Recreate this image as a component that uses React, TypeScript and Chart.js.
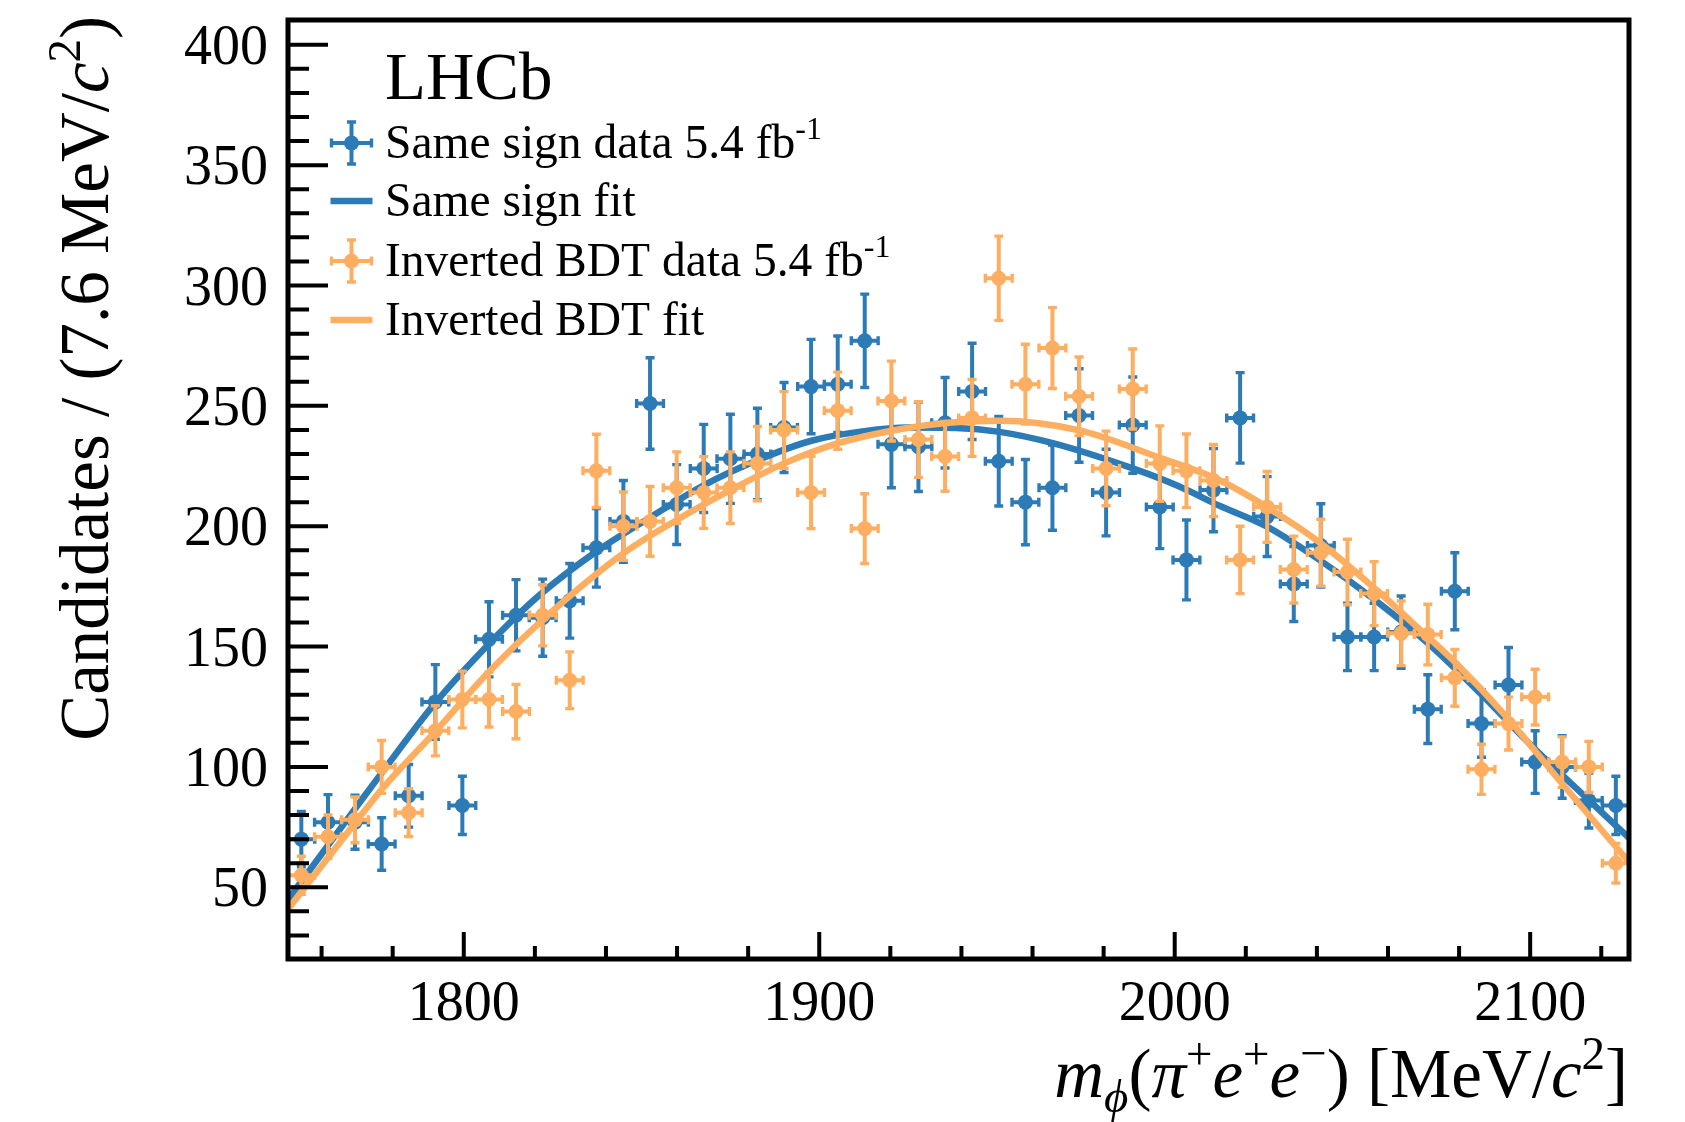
import { useEffect, useRef } from "react";
import { Chart, registerables } from "chart.js";

Chart.register(...registerables);

// ---- data ----
const BIN_CENTERS = [
  1754.3, 1761.8, 1769.4, 1776.9, 1784.5, 1792.0, 1799.6, 1807.1, 1814.7, 1822.2,
  1829.8, 1837.3, 1844.9, 1852.4, 1859.9, 1867.5, 1875.0, 1882.6, 1890.1, 1897.7,
  1905.2, 1912.8, 1920.3, 1927.9, 1935.4, 1943.0, 1950.5, 1958.0, 1965.6, 1973.1,
  1980.7, 1988.2, 1995.8, 2003.3, 2010.9, 2018.4, 2026.0, 2033.5, 2041.1, 2048.6,
  2056.1, 2063.7, 2071.2, 2078.8, 2086.3, 2093.9, 2101.4, 2109.0, 2116.5, 2124.1,
];
const BIN_HALF_WIDTH = 3.77;

const SAME_SIGN_COUNTS = [
  70, 77, 77, 68, 88, 127, 84, 153, 163, 162,
  169, 191, 202, 251, 209, 224, 228, 230, 241, 258,
  259, 277, 234, 233, 243, 256, 227, 210, 216, 246,
  214, 242, 208, 186, 215, 245, 204, 176, 192, 154,
  154, 156, 124, 173, 118, 134, 102, 100, 86, 84,
];
const SAME_SIGN_ERRORS = [
  11.5, 11.5, 11.2, 10.9, 13, 15.5, 12.1, 15.6, 14.8, 16,
  15.5, 16.3, 17, 19, 16.6, 18.3, 18.5, 19, 18.7, 19.6,
  20, 19.4, 18, 18.6, 18.8, 20, 18.6, 17.7, 17.7, 19.4,
  18, 20, 17.3, 16.6, 17.3, 18.8, 16.6, 15.6, 17.3, 14,
  14, 15, 14.3, 16, 14, 15.6, 13, 13, 11.4, 12.1,
];

const INVERTED_COUNTS = [
  55, 71, 78, 100, 81, 115, 128, 128, 123, 163,
  136, 223, 200, 202, 216, 214, 216, 226, 240, 214,
  248, 199, 252, 236, 229, 245, 303, 259, 274, 254,
  224, 257, 226, 223, 219, 186, 208, 182, 189, 181,
  172, 155.5, 155, 137, 99, 118, 129, 102, 100, 60,
];
const INVERTED_ERRORS = [
  7.9, 9, 9.5, 11, 9.9, 10.4, 11.8, 11.4, 11.3, 12.7,
  11.8, 15.2, 14.2, 14.5, 14.9, 14.9, 14.9, 15.4, 15.9, 15,
  16, 14.5, 16.6, 15.7, 14.5, 16, 17.5, 16.6, 16.8, 16.3,
  15.5, 16.6, 15.7, 15.3, 15, 14, 14.7, 13.9, 13.9, 13.6,
  13.3, 13.4, 12.6, 11.8, 10.4, 11, 11.6, 10.5, 10.6, 8.2,
];

const SAME_SIGN_FIT_X = [
  1750.6, 1768.4, 1777.8, 1791.8, 1807.0, 1821.0, 1837.3, 1852.3, 1867.5, 1882.6,
  1897.8, 1912.6, 1925.0, 1938.5, 1950.7, 1965.7, 1988.2, 2001.3, 2012.6, 2025.7,
  2040.7, 2056.2, 2071.5, 2086.0, 2100.7, 2116.5, 2127.8,
];
const SAME_SIGN_FIT_Y = [
  45, 80.6, 99.3, 126.3, 151, 171, 189.5, 203.5, 217, 227.4,
  235.5, 239.5, 241, 240.8, 239.2, 234.5, 224, 216.5, 208.5, 200,
  186, 169.5, 151, 130.5, 108.3, 86.2, 70.5,
];

const INVERTED_FIT_X = [
  1750.6, 1769.6, 1777.1, 1791.9, 1807.0, 1822.1, 1844.8, 1859.8, 1875.0, 1890.3,
  1905.1, 1922.6, 1935.7, 1950.7, 1973.2, 1995.7, 2012.6, 2025.9, 2041.2, 2057.0,
  2071.2, 2079.2, 2093.2, 2109.0, 2127.8,
];
const INVERTED_FIT_Y = [
  41, 77, 91, 114.5, 139.4, 161, 188.6, 202.5, 215, 226.2,
  234.4, 240.3, 242.9, 243.8, 239.8, 228.5, 219.1, 208, 192.8, 173.2,
  154, 143, 121, 93, 60.5,
];

const X_MIN = 1750.55;
const X_MAX = 2127.8;
const Y_MIN = 20.2;
const Y_MAX = 410.3;
const X_TICK_LABELS = [1800, 1900, 2000, 2100];
const Y_TICK_LABELS = [50, 100, 150, 200, 250, 300, 350, 400];
const X_MINOR_STEP = 20;
const Y_MINOR_STEP = 10;

const BLUE = "#2c7bb6";
const ORANGE = "#fdae61";
const SERIF = '"Liberation Serif", "Times New Roman", serif';
const FIT_WIDTH = 6.5;
const POINT_RADIUS = 7.5;
const BAR_WIDTH = 4;

type Seg = { t: string; it?: boolean; sup?: boolean; sub?: boolean };

function drawRich(
  ctx: CanvasRenderingContext2D,
  segs: Seg[],
  x: number,
  y: number,
  size: number,
  align: "left" | "right"
) {
  const fontFor = (s: Seg) =>
    `${s.it ? "italic " : ""}${s.sup || s.sub ? Math.round(size * 0.68) : size}px ${SERIF}`;
  const widths: number[] = [];
  let total = 0;
  for (const s of segs) {
    ctx.font = fontFor(s);
    const w = ctx.measureText(s.t).width;
    widths.push(w);
    total += w;
  }
  let cx = align === "right" ? x - total : x;
  ctx.textAlign = "left";
  ctx.textBaseline = "alphabetic";
  segs.forEach((s, i) => {
    ctx.font = fontFor(s);
    const dy = s.sup ? -size * 0.4 : s.sub ? size * 0.22 : 0;
    ctx.fillText(s.t, cx, y + dy);
    cx += widths[i];
  });
}

function drawMarker(ctx: CanvasRenderingContext2D, x: number, y: number, color: string, hx: number, hy: number, r: number) {
  ctx.strokeStyle = color;
  ctx.fillStyle = color;
  ctx.lineWidth = BAR_WIDTH;
  ctx.beginPath();
  ctx.moveTo(x, y - hy);
  ctx.lineTo(x, y + hy);
  ctx.moveTo(x - hx, y);
  ctx.lineTo(x + hx, y);
  ctx.stroke();
  ctx.lineWidth = 3.4;
  ctx.beginPath();
  ctx.moveTo(x - 4.5, y - hy);
  ctx.lineTo(x + 4.5, y - hy);
  ctx.moveTo(x - 4.5, y + hy);
  ctx.lineTo(x + 4.5, y + hy);
  ctx.moveTo(x - hx, y - 4.5);
  ctx.lineTo(x - hx, y + 4.5);
  ctx.moveTo(x + hx, y - 4.5);
  ctx.lineTo(x + hx, y + 4.5);
  ctx.stroke();
  if (r > 0) {
    ctx.beginPath();
    ctx.arc(x, y, r, 0, Math.PI * 2);
    ctx.fill();
  }
}

const lhcbPlugin = {
  id: "lhcbDecor",
  beforeDraw(chart: any) {
    const ctx = chart.ctx as CanvasRenderingContext2D;
    ctx.save();
    ctx.fillStyle = "#ffffff";
    ctx.fillRect(0, 0, chart.width, chart.height);
    ctx.restore();
  },
  beforeDatasetDraw(chart: any, args: any) {
    const ds = chart.data.datasets[args.index];
    if (!ds.errors) return;
    const ctx = chart.ctx as CanvasRenderingContext2D;
    const a = chart.chartArea;
    const xs = chart.scales.x;
    const ys = chart.scales.y;
    ctx.save();
    ctx.beginPath();
    ctx.rect(a.left, a.top, a.right - a.left, a.bottom - a.top);
    ctx.clip();
    ctx.strokeStyle = ds.pointBackgroundColor;
    ds.values.forEach((v: number, i: number) => {
      const c = BIN_CENTERS[i];
      const e = ds.errors[i];
      const px = xs.getPixelForValue(c);
      const py = ys.getPixelForValue(v);
      const yt = ys.getPixelForValue(v + e);
      const yb = ys.getPixelForValue(v - e);
      const xl = xs.getPixelForValue(c - BIN_HALF_WIDTH);
      const xr = xs.getPixelForValue(c + BIN_HALF_WIDTH);
      ctx.lineWidth = BAR_WIDTH;
      ctx.beginPath();
      ctx.moveTo(px, yt);
      ctx.lineTo(px, yb);
      ctx.moveTo(xl, py);
      ctx.lineTo(xr, py);
      ctx.stroke();
      ctx.lineWidth = 3.4;
      ctx.beginPath();
      ctx.moveTo(px - 4.5, yt);
      ctx.lineTo(px + 4.5, yt);
      ctx.moveTo(px - 4.5, yb);
      ctx.lineTo(px + 4.5, yb);
      ctx.moveTo(xl, py - 4.5);
      ctx.lineTo(xl, py + 4.5);
      ctx.moveTo(xr, py - 4.5);
      ctx.lineTo(xr, py + 4.5);
      ctx.stroke();
    });
    ctx.restore();
  },
  afterDatasetsDraw(chart: any) {
    const ctx = chart.ctx as CanvasRenderingContext2D;
    const a = chart.chartArea;
    const xs = chart.scales.x;
    const ys = chart.scales.y;
    ctx.save();
    ctx.strokeStyle = "#000";
    ctx.fillStyle = "#000";

    // ticks
    ctx.lineWidth = 4;
    ctx.beginPath();
    for (let v = 30; v <= 400; v += Y_MINOR_STEP) {
      const py = ys.getPixelForValue(v);
      const major = Y_TICK_LABELS.includes(v);
      ctx.moveTo(a.left, py);
      ctx.lineTo(a.left + (major ? 40 : 21), py);
    }
    for (let v = 1760; v <= 2120; v += X_MINOR_STEP) {
      const px = xs.getPixelForValue(v);
      const major = X_TICK_LABELS.includes(v);
      ctx.moveTo(px, a.bottom);
      ctx.lineTo(px, a.bottom - (major ? 27 : 13));
    }
    ctx.stroke();

    // frame
    ctx.lineWidth = 5;
    ctx.strokeRect(a.left, a.top, a.right - a.left, a.bottom - a.top);

    // tick labels
    ctx.font = `56px ${SERIF}`;
    ctx.textBaseline = "alphabetic";
    ctx.textAlign = "right";
    for (const v of Y_TICK_LABELS) {
      ctx.fillText(String(v), 268, ys.getPixelForValue(v) + 19);
    }
    ctx.textAlign = "center";
    for (const v of X_TICK_LABELS) {
      ctx.fillText(String(v), xs.getPixelForValue(v), 1020);
    }

    // x title
    drawRich(
      ctx,
      [
        { t: "m", it: true },
        { t: "\u03d5", it: true, sub: true },
        { t: "(" },
        { t: "\u03c0", it: true },
        { t: "+", sup: true },
        { t: "e", it: true },
        { t: "+", sup: true },
        { t: "e", it: true },
        { t: "\u2212", sup: true },
        { t: ") [MeV/" },
        { t: "c", it: true },
        { t: "2", sup: true },
        { t: "]" },
      ],
      1628,
      1097,
      69,
      "right"
    );

    // y title
    ctx.save();
    ctx.translate(108, 16);
    ctx.rotate(-Math.PI / 2);
    drawRich(
      ctx,
      [{ t: "Candidates / (7.6 MeV/" }, { t: "c", it: true }, { t: "2", sup: true }, { t: ")" }],
      0,
      0,
      69,
      "right"
    );
    ctx.restore();

    // LHCb label
    ctx.fillStyle = "#000";
    ctx.font = `67px ${SERIF}`;
    ctx.textAlign = "left";
    ctx.fillText("LHCb", 385, 99);

    // legend
    const LX = 351.5;
    const rows = [143, 201, 261, 320];
    drawMarker(ctx, LX, rows[0], BLUE, 20, 21, POINT_RADIUS);
    ctx.strokeStyle = BLUE;
    ctx.lineWidth = FIT_WIDTH;
    ctx.beginPath();
    ctx.moveTo(LX - 21, rows[1]);
    ctx.lineTo(LX + 21, rows[1]);
    ctx.stroke();
    drawMarker(ctx, LX, rows[2], ORANGE, 20, 21, POINT_RADIUS);
    ctx.strokeStyle = ORANGE;
    ctx.lineWidth = FIT_WIDTH;
    ctx.beginPath();
    ctx.moveTo(LX - 21, rows[3]);
    ctx.lineTo(LX + 21, rows[3]);
    ctx.stroke();

    ctx.fillStyle = "#000";
    const LS = 47.5;
    drawRich(ctx, [{ t: "Same sign data 5.4 fb" }, { t: "-1", sup: true }], 385, rows[0] + 15, LS, "left");
    drawRich(ctx, [{ t: "Same sign fit" }], 385, rows[1] + 15, LS, "left");
    drawRich(ctx, [{ t: "Inverted BDT data 5.4 fb" }, { t: "-1", sup: true }], 385, rows[2] + 15, LS, "left");
    drawRich(ctx, [{ t: "Inverted BDT fit" }], 385, rows[3] + 15, LS, "left");

    ctx.restore();
  },
};

export default function App() {
  const ref = useRef<HTMLCanvasElement>(null);
  useEffect(() => {
    document.body.style.margin = "0";
    document.body.style.overflow = "hidden";
    const canvas = ref.current;
    if (!canvas) return;
    const chart = new Chart(canvas, {
      type: "scatter",
      data: {
        datasets: [
          {
            label: "Same sign data 5.4 fb-1",
            data: BIN_CENTERS.map((x, i) => ({ x, y: SAME_SIGN_COUNTS[i] })),
            pointRadius: POINT_RADIUS,
            pointBackgroundColor: BLUE,
            pointBorderWidth: 0,
            order: 4,
            errors: SAME_SIGN_ERRORS,
            values: SAME_SIGN_COUNTS,
          } as any,
          {
            label: "Same sign fit",
            data: SAME_SIGN_FIT_X.map((x, i) => ({ x, y: SAME_SIGN_FIT_Y[i] })),
            showLine: true,
            pointRadius: 0,
            borderColor: BLUE,
            borderWidth: FIT_WIDTH,
            cubicInterpolationMode: "monotone",
            clip: 0,
            order: 3,
          } as any,
          {
            label: "Inverted BDT data 5.4 fb-1",
            data: BIN_CENTERS.map((x, i) => ({ x, y: INVERTED_COUNTS[i] })),
            pointRadius: POINT_RADIUS,
            pointBackgroundColor: ORANGE,
            pointBorderWidth: 0,
            order: 2,
            errors: INVERTED_ERRORS,
            values: INVERTED_COUNTS,
          } as any,
          {
            label: "Inverted BDT fit",
            data: INVERTED_FIT_X.map((x, i) => ({ x, y: INVERTED_FIT_Y[i] })),
            showLine: true,
            pointRadius: 0,
            borderColor: ORANGE,
            borderWidth: FIT_WIDTH,
            cubicInterpolationMode: "monotone",
            clip: 0,
            order: 1,
          } as any,
        ],
      },
      options: {
        animation: false,
        responsive: false,
        devicePixelRatio: 1,
        layout: { padding: { left: 288, right: 56, top: 20, bottom: 163 } },
        scales: {
          x: { type: "linear", min: X_MIN, max: X_MAX, display: false },
          y: { type: "linear", min: Y_MIN, max: Y_MAX, display: false },
        },
        plugins: {
          legend: { display: false },
          tooltip: { enabled: false },
        },
      },
      plugins: [lhcbPlugin as any],
    });
    return () => chart.destroy();
  }, []);
  return (
    <div style={{ width: 1685, height: 1122 }}>
      <canvas ref={ref} width={1685} height={1122} style={{ display: "block", width: 1685, height: 1122 }} />
    </div>
  );
}
